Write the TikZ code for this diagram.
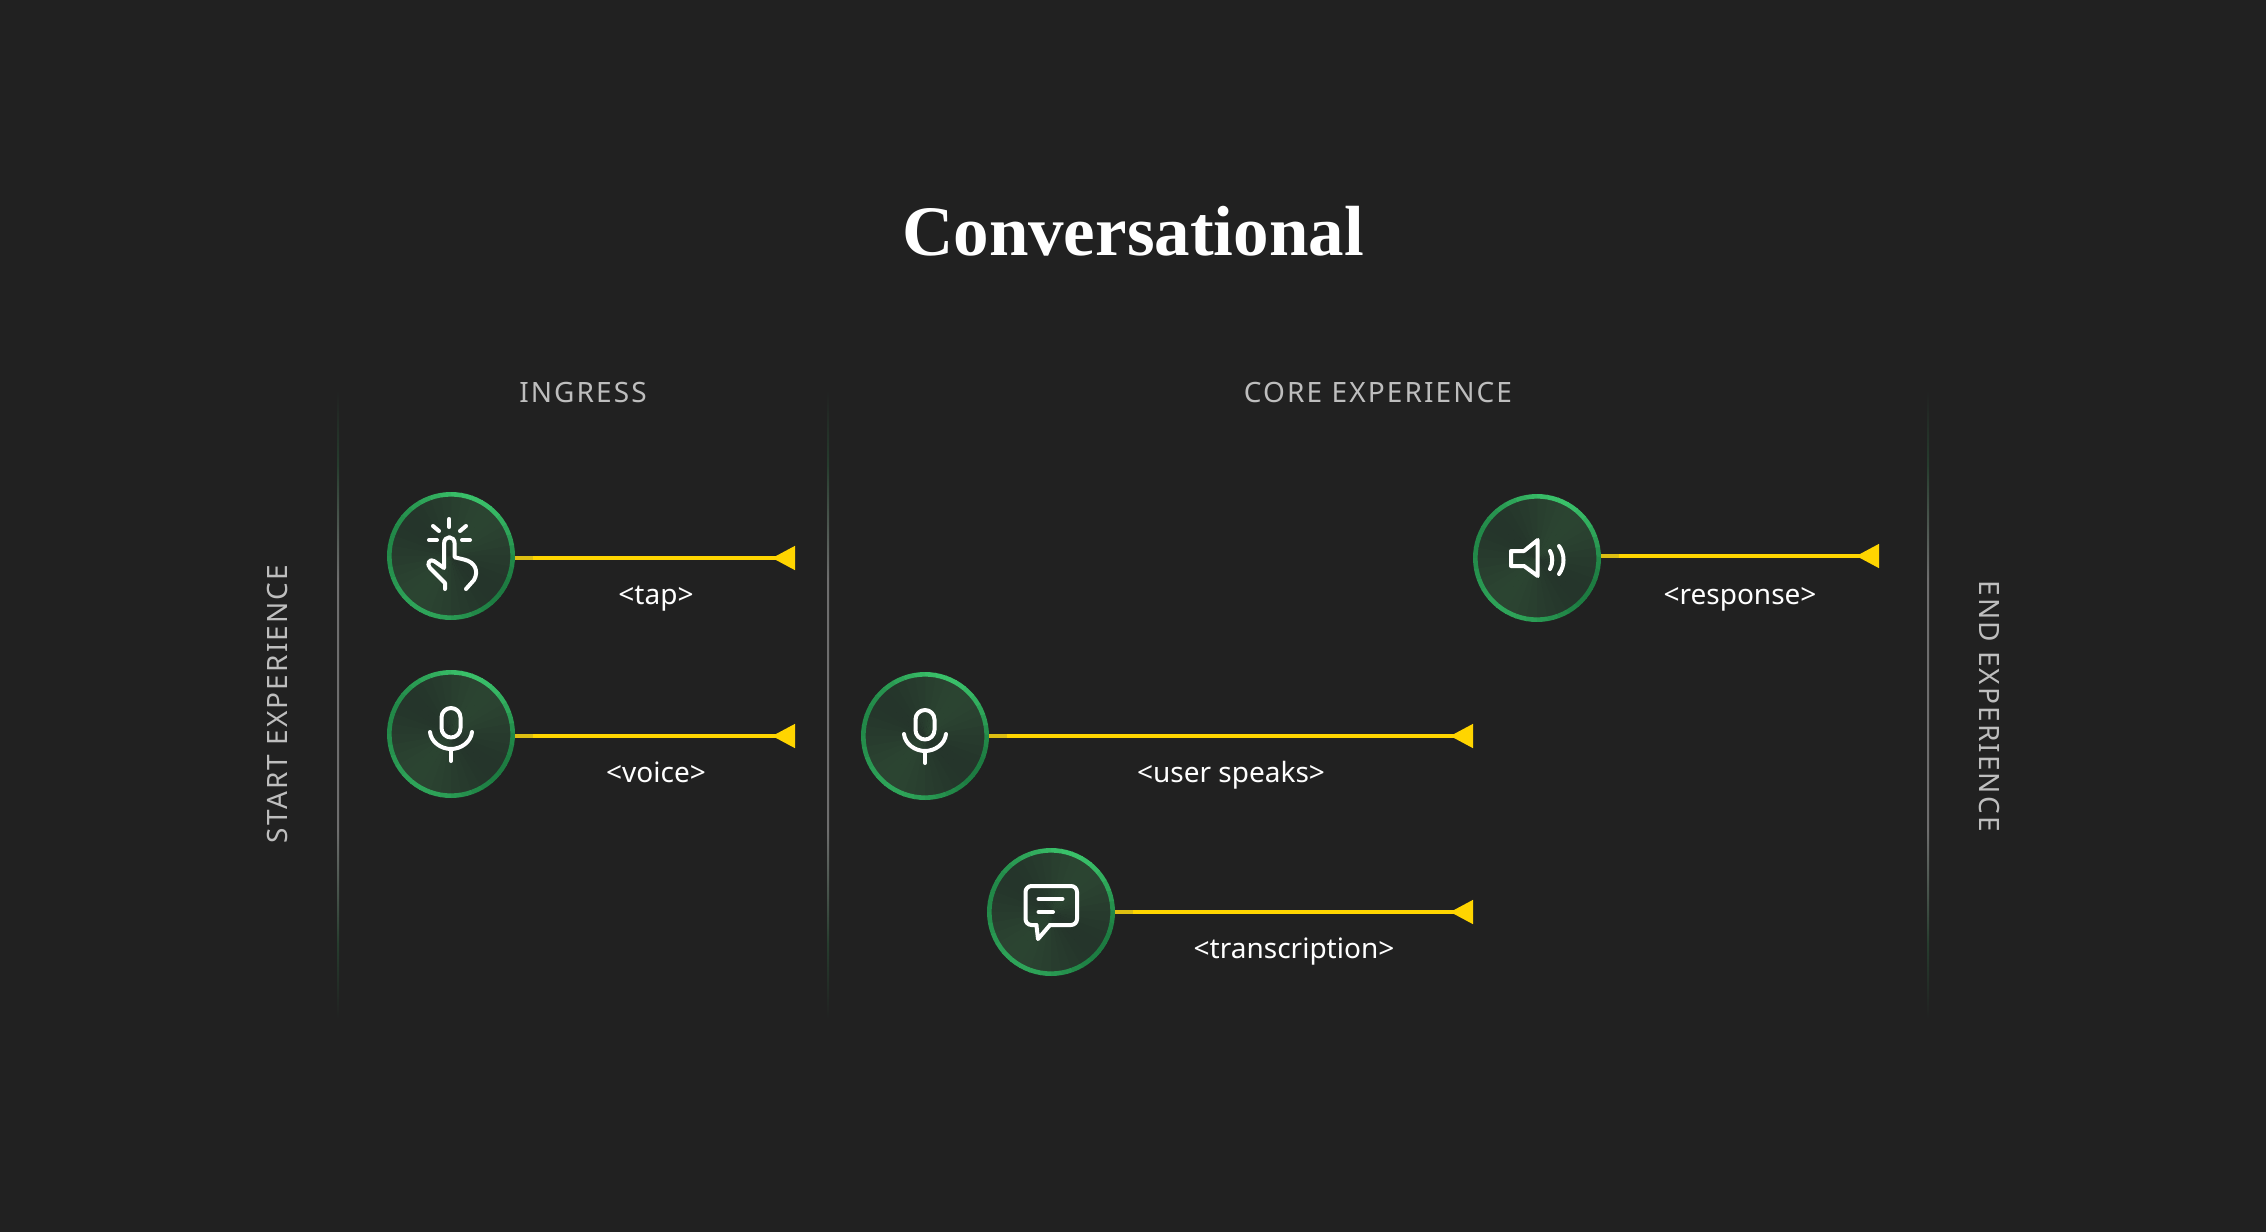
\documentclass[tikz,border=0pt]{standalone}
\usepackage{fontspec}
\usetikzlibrary{arrows.meta}
\setmainfont{Noto Sans}
\newfontfamily\titlefont{Liberation Serif}
\newfontfamily\capsfont{Noto Sans}[LetterSpace=7.5]
\definecolor{bg}{HTML}{212121}
\definecolor{linegold}{HTML}{FFD500}
\definecolor{linedim}{HTML}{DDBE12}
\definecolor{fillhi}{HTML}{2B4431}
\definecolor{filllo}{HTML}{25352B}
\definecolor{ringhi}{HTML}{40CF72}
\definecolor{ringlo}{HTML}{1C7A40}
\definecolor{capsgray}{HTML}{BEBEBE}
\definecolor{ruleside}{HTML}{6E6E6E}
\definecolor{ruleend}{HTML}{263D2E}
\pgfdeclareverticalshading{dividerfade}{100bp}{
  color(0bp)=(bg); color(25bp)=(bg); color(31bp)=(ruleend); color(40bp)=(ruleside);
  color(60bp)=(ruleside); color(69bp)=(ruleend); color(75bp)=(bg); color(100bp)=(bg)}
\tikzset{
  iconnode/.style={circle,inner sep=0pt,minimum size=64pt},
  link/.style={draw=linegold,line width=2.3pt,-{Triangle[reversed,length=11.5pt,width=11.5pt,fill=linegold]}},
  linkstart/.style={draw=linedim,line width=2.3pt},
  glyph/.style={draw=white,line width=2pt,line cap=round,line join=round},
  lab/.style={text=white,font=\fontsize{14}{17}\selectfont,anchor=base,inner sep=0pt},
  capslab/.style={text=capsgray,font=\capsfont\fontsize{14}{17}\selectfont,inner sep=0pt},
  divider/.style={shading=dividerfade,draw=none},
  discbase/.pic={
    \foreach \a in {0,10,...,350}{
      \pgfmathsetmacro\ff{50+50*cos(2*(\a+5-50))}
      \pgfmathsetmacro\fr{38+28*cos(2*(\a+5-65))+18*sin(\a+5)}
      \fill[fillhi!\ff!filllo] (0,0) -- (\a:30pt) arc[start angle=\a,delta angle=11,radius=30pt] -- cycle;
      \draw[ringhi!\fr!ringlo,line width=2.3pt] (\a:30.85pt) arc[start angle=\a,delta angle=11,radius=30.85pt];
    }
  },
}
\begin{document}
\begin{tikzpicture}[x=0.5pt,y=-0.5pt]
\useasboundingbox[fill=bg] (0,0) rectangle (2266,1232);

\node[text=white,font=\titlefont\bfseries\fontsize{35.5}{40}\selectfont,anchor=base,inner sep=0pt] (title) at (1133,255) {Conversational};
\node[capslab] (ingress) at (583,392) {INGRESS};
\node[capslab] (core) at (1378,392) {CORE EXPERIENCE};
\node[capslab,rotate=90] (start) at (278,704) {START EXPERIENCE};
\node[capslab,rotate=-90] (endexp) at (1989,706) {END EXPERIENCE};

\shade[divider] (337,390) rectangle (339,1019);
\shade[divider] (827,390) rectangle (829,1019);
\shade[divider] (1927,390) rectangle (1929,1019);

\pic at (451,556) {discbase};
\pic at (451,734) {discbase};
\pic at (925,736) {discbase};
\pic at (1051,912) {discbase};
\pic at (1537,558) {discbase};

\node[iconnode] (tap) at (451,556) {};
\node[iconnode] (voice) at (451,734) {};
\node[iconnode] (speak) at (925,736) {};
\node[iconnode] (trans) at (1051,912) {};
\node[iconnode] (resp) at (1537,558) {};

\coordinate (tapend) at (795,558);
\coordinate (voiceend) at (795,736);
\coordinate (speakend) at (1473,736);
\coordinate (transend) at (1473,912);
\coordinate (respend) at (1879,556);

\draw[link] (tap.east |- tapend) -- (tapend);
\draw[link] (voice.east |- voiceend) -- (voiceend);
\draw[link] (speak.east |- speakend) -- (speakend);
\draw[link] (trans.east |- transend) -- (transend);
\draw[link] (resp.east |- respend) -- (respend);
\draw[linkstart] (tap.east |- tapend) -- +(18,0);
\draw[linkstart] (voice.east |- voiceend) -- +(18,0);
\draw[linkstart] (speak.east |- speakend) -- +(18,0);
\draw[linkstart] (trans.east |- transend) -- +(18,0);
\draw[linkstart] (resp.east |- respend) -- +(18,0);

\node[lab] (ltap) at (656,604) {<tap>};
\node[lab] (lvoice) at (656,782) {<voice>};
\node[lab] (lspeak) at (1231,782) {<user speaks>};
\node[lab] (ltrans) at (1294,958) {<transcription>};
\node[lab] (lresp) at (1740,604) {<response>};

% tap icon
\begin{scope}[shift={(tap.center)},glyph]
\draw (-1.7,-37) -- (-1.7,-29);
\draw (-18,-30) -- (-12,-25);
\draw (15,-30) -- (9,-25);
\draw (-22,-16) -- (-14,-16);
\draw (11,-16) -- (19,-16);
\draw (-6,33) -- (-6,27) -- (-21,12) .. controls (-25,8) and (-21,2) .. (-17,5) -- (-7,12) -- (-7,-12)
  .. controls (-7,-21) and (3.7,-21) .. (3.7,-12) -- (3.7,1.3) -- (13,3.5)
  .. controls (24,6) and (28,15) .. (23,24) -- (15,33);
\end{scope}
% mic icons
\foreach \n in {voice,speak}{
\begin{scope}[shift={(\n.center)},glyph]
\draw (-9.5,-16.5) arc[start angle=180,end angle=0,radius=4.75pt] -- (9.5,-6) arc[start angle=0,end angle=-180,radius=4.75pt] -- cycle;
\draw (-21,-2) .. controls (-20,8) and (-10,15) .. (0,15) .. controls (10,15) and (20,8) .. (21,-2);
\draw (0,15) -- (0,27);
\end{scope}
}
% chat icon
\begin{scope}[shift={(trans.center)},glyph]
\draw[rounded corners=3pt] (-14.6,13) -- (-25.5,13) -- (-25.5,-26) -- (26,-26) -- (26,13) -- (-1,13);
\draw (-1,13) -- (-13,27) -- (-14.6,13);
\draw (-12.5,-13) -- (11.5,-13);
\draw (-12.5,0) -- (2,0);
\end{scope}
% speaker icon
\begin{scope}[shift={(resp.center)},glyph]
\draw (-26,-7) -- (-13,-7) -- (0.7,-18) -- (0.7,18) -- (-13,8) -- (-26,8) -- cycle;
\draw (13,-7) .. controls (16,-2) and (16,6) .. (13,11);
\draw (22,-12) .. controls (28,-4) and (28,8) .. (22,16);
\end{scope}
\end{tikzpicture}
\end{document}
